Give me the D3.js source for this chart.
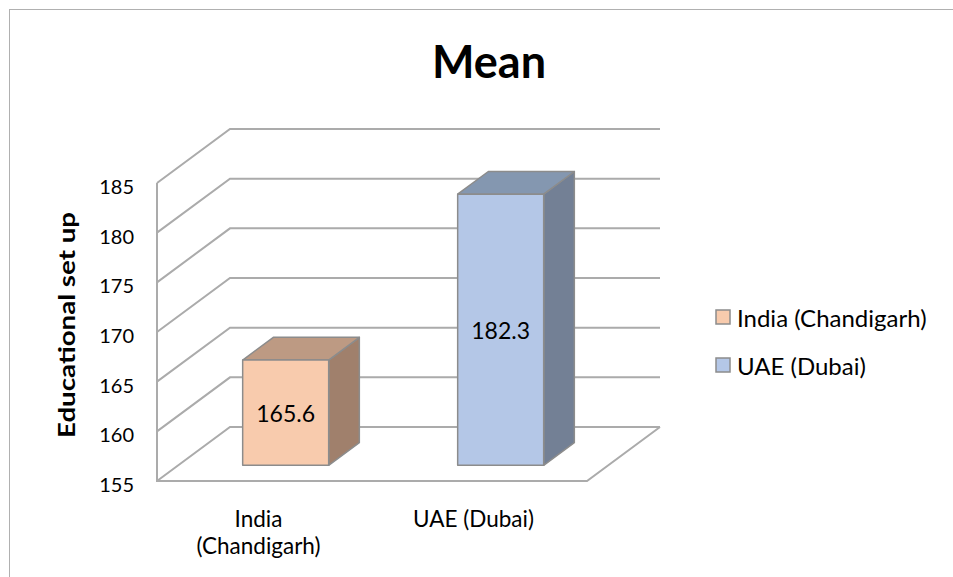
<!DOCTYPE html>
<html>
<head>
<meta charset="utf-8">
<script src="https://cdn.jsdelivr.net/npm/d3@7"></script>
<style>
  body { margin: 0; background: #fff; }
  svg { display: block; font-family: Lato, "Open Sans", sans-serif; }
</style>
</head>
<body>
<svg id="chart" width="953" height="577"></svg>
<script>
// data
const categories = ["India (Chandigarh)", "UAE (Dubai)"]
const categoryLines = [["India", "(Chandigarh)"], ["UAE (Dubai)"]]
const means = [165.6, 182.3]
const yTicks = [155, 160, 165, 170, 175, 180, 185]

// faces: front, top, side
const barColors = [
    {front: "#f8cbad", top: "#bd9a83", side: "#a0806c"},
    {front: "#b4c7e7", top: "#8497b0", side: "#738095"}
]
const gridColor = "#ababab", edgeColor = "#8c8c8c"
const depth = {dx: 73, dy: -54}      // wall depth vector
const barZ = [0.29, 0.71]             // bar front/back position inside the depth

var svg = d3.select("#chart")

// chart area border (runs off the right and bottom)
svg.append("rect")
    .attr("x", 9.5).attr("y", 9.5)
    .attr("width", 1000).attr("height", 1000)
    .attr("fill", "none").attr("stroke", "#b0b0b0")

var x = d3.scaleBand().domain(categories).range([157, 587]).paddingInner(0.6).paddingOuter(0.3)
var y = d3.scaleLinear().domain([155, 185]).range([481, 183])
var x0 = x.range()[0], x1 = x.range()[1]

// project a point of the front plane back by z (0..1)
function proj(px, py, z) { return [px + z * depth.dx, py + z * depth.dy] }

// gridlines: left wall diagonal + back wall line
svg.append("g")
    .selectAll("path")
    .data(yTicks)
    .enter()
    .append("path")
    .attr("fill", "none")
    .attr("stroke", gridColor)
    .attr("stroke-width", 2)
    .attr("d", t => {
        let a = [x0, y(t)], b = proj(x0, y(t), 1), c = proj(x1, y(t), 1)
        return d3.line()([a, b, c])
    })

// left wall front edge and floor outline
var base = y.domain()[0]
svg.append("path")
    .attr("fill", "none").attr("stroke", gridColor).attr("stroke-width", 2)
    .attr("d", d3.line()([[x0, y(y.domain()[1])], [x0, y(base)], [x1, y(base)], proj(x1, y(base), 1)]))

// tick labels
svg.append("g")
    .selectAll("text")
    .data(yTicks)
    .enter()
    .append("text")
    .attr("x", 134)
    .attr("y", d => y(d) + 3)
    .attr("text-anchor", "end")
    .attr("dominant-baseline", "central")
    .style("font-size", "20px")
    .text(d => d)

// bars
var bars = svg.append("g")
    .selectAll("g")
    .data(means)
    .enter()
    .append("g")

var bw = x.bandwidth()
function corners(i, v) {
    let l = x(categories[i]), r = l + bw
    return {
        ftl: proj(l, y(v), barZ[0]), ftr: proj(r, y(v), barZ[0]),
        fbr: proj(r, y(base), barZ[0]), fbl: proj(l, y(base), barZ[0]),
        btl: proj(l, y(v), barZ[1]), btr: proj(r, y(v), barZ[1]),
        bbr: proj(r, y(base), barZ[1])
    }
}

bars.append("path")   // side
    .attr("fill", (d, i) => barColors[i].side)
    .attr("stroke", edgeColor).attr("stroke-width", 1.5).attr("stroke-linejoin", "round")
    .attr("d", (d, i) => { let c = corners(i, d); return d3.line()([c.ftr, c.fbr, c.bbr, c.btr]) + "Z" })

bars.append("path")   // top
    .attr("fill", (d, i) => barColors[i].top)
    .attr("stroke", edgeColor).attr("stroke-width", 1.5).attr("stroke-linejoin", "round")
    .attr("d", (d, i) => { let c = corners(i, d); return d3.line()([c.ftl, c.ftr, c.btr, c.btl]) + "Z" })

bars.append("path")   // front
    .attr("fill", (d, i) => barColors[i].front)
    .attr("stroke", edgeColor).attr("stroke-width", 1.5).attr("stroke-linejoin", "round")
    .attr("d", (d, i) => { let c = corners(i, d); return d3.line()([c.ftl, c.ftr, c.fbr, c.fbl]) + "Z" })

bars.append("text")
    .attr("x", (d, i) => corners(i, d).ftl[0] + bw / 2)
    .attr("y", (d, i) => { let c = corners(i, d); return (c.ftl[1] + c.fbl[1]) / 2 })
    .attr("text-anchor", "middle")
    .attr("dominant-baseline", "central")
    .style("font-size", "23px")
    .text(d => d.toFixed(1))

// category labels
svg.append("g")
    .selectAll("text")
    .data(categories)
    .enter()
    .append("text")
    .attr("x", d => x(d) + bw / 2 - 6)
    .attr("y", 527)
    .attr("text-anchor", "middle")
    .style("font-size", "22.5px")
    .each(function(d, i) {
        let t = d3.select(this)
        categoryLines[i].forEach((line, k) => {
            t.append("tspan").attr("x", x(d) + bw / 2 - 6).attr("dy", k ? 27 : 0).text(line)
        })
    })

// title
svg.append("text")
    .attr("x", 489).attr("y", 78)
    .attr("text-anchor", "middle")
    .style("font-size", "45px").style("font-weight", "bold")
    .text("Mean")

// y axis title
svg.append("text")
    .attr("transform", "translate(66,325) rotate(-90)")
    .attr("text-anchor", "middle")
    .attr("dominant-baseline", "central")
    .attr("textLength", 226)
    .attr("lengthAdjust", "spacingAndGlyphs")
    .style("font-size", "22px").style("font-weight", "bold")
    .text("Educational set up")

// legend
var legend = svg.append("g")
    .selectAll("g")
    .data(categories)
    .enter()
    .append("g")
    .attr("transform", (d, i) => "translate(716," + (317 + i * 48) + ")")

legend.append("rect")
    .attr("x", 0).attr("y", -7)
    .attr("width", 14).attr("height", 14)
    .attr("fill", (d, i) => barColors[i].front)
    .attr("stroke", edgeColor).attr("stroke-width", 1.5)

legend.append("text")
    .attr("x", 21).attr("y", 0)
    .attr("dominant-baseline", "central")
    .style("font-size", "24px")
    .text(d => d)
</script>
</body>
</html>
